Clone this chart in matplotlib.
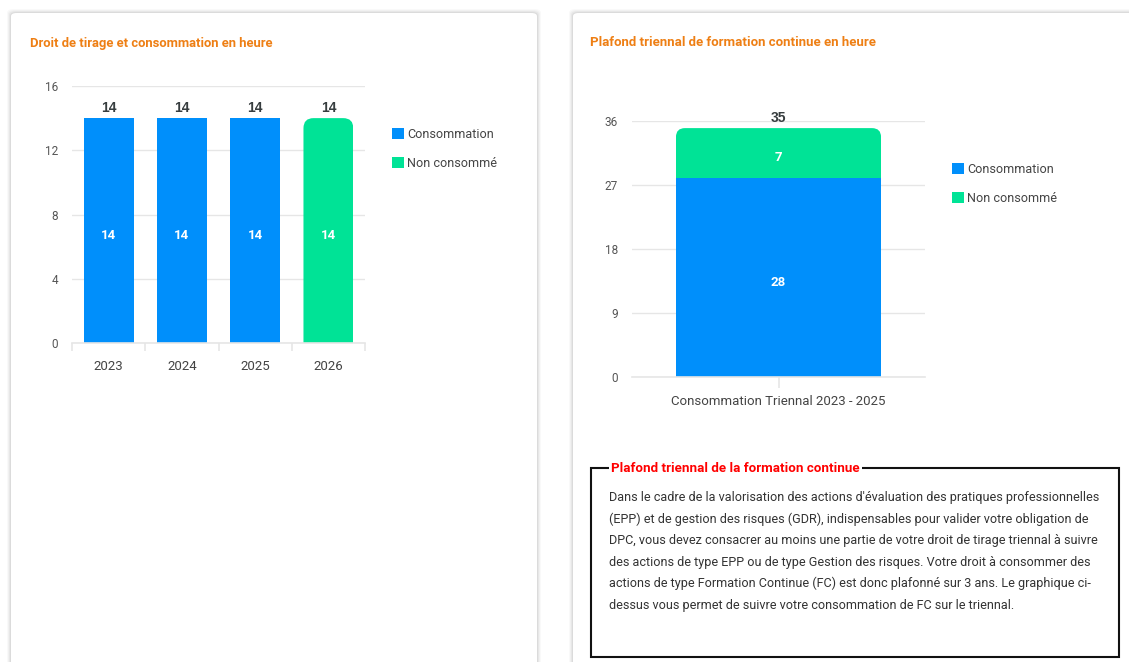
import matplotlib
matplotlib.use("Agg")
import matplotlib.pyplot as plt
import numpy as np
from matplotlib.patches import FancyBboxPatch, Rectangle, Patch
from matplotlib.transforms import IdentityTransform

# données
annees = ["2023", "2024", "2025", "2026"]
conso_annuelle = [14, 14, 14, 0]
non_conso_annuelle = [0, 0, 0, 14]

triennal_label = ["Consommation Triennal 2023 - 2025"]
conso_triennal = [28]
non_conso_triennal = [7]

titre_gauche = "Droit de tirage et consommation en heure"
titre_droite = "Plafond triennal de formation continue en heure"
titre_encadre = "Plafond triennal de la formation continue"
texte_encadre = [
    "Dans le cadre de la valorisation des actions d'évaluation des pratiques professionnelles",
    "(EPP) et de gestion des risques (GDR), indispensables pour valider votre obligation de",
    "DPC, vous devez consacrer au moins une partie de votre droit de tirage triennal à suivre",
    "des actions de type EPP ou de type Gestion des risques. Votre droit à consommer des",
    "actions de type Formation Continue (FC) est donc plafonné sur 3 ans. Le graphique ci-",
    "dessus vous permet de suivre votre consommation de FC sur le triennal.",
]

BLEU = "#008FFB"
VERT = "#00E396"
ORANGE = "#EE7F14"
GRILLE = "#E6E6E6"
TXT = "#373D3F"

W, H = 1129, 662
DPI = 100
plt.rcParams['font.family'] = ['Roboto', 'DejaVu Sans']

fig = plt.figure(figsize=(W / DPI, H / DPI), dpi=DPI)
fig.patch.set_facecolor("white")


def rect(x, y, w, h):
    return [x / W, 1 - (y + h) / H, w / W, h / H]


# cartes avec ombre
for (cx, cy, cw, ch) in [(11, 13, 526, 680), (573, 13, 600, 680)]:
    for i, a in enumerate([0.025, 0.03, 0.04, 0.05]):
        d = 4 - i
        fig.patches.append(FancyBboxPatch(((cx - d) / W, 1 - (cy + ch + d) / H), (cw + 2 * d) / W,
                                          (ch + 2 * d) / H, boxstyle="round,pad=0,rounding_size=0.006",
                                          transform=fig.transFigure, facecolor="black", alpha=a,
                                          edgecolor="none", zorder=0))
    fig.patches.append(FancyBboxPatch((cx / W, 1 - (cy + ch) / H), cw / W, ch / H,
                                      boxstyle="round,pad=0,rounding_size=0.005",
                                      transform=fig.transFigure, facecolor="white",
                                      edgecolor="none", zorder=0.5))

fig.text(30 / W, 1 - 43 / H, titre_gauche, color=ORANGE, fontsize=9.4, fontweight="bold",
         va="center", ha="left")
fig.text(590 / W, 1 - 43 / H, titre_droite, color=ORANGE, fontsize=9.5, fontweight="bold",
         va="center", ha="left")


def style_axes(ax, yticks, ymax):
    ax.set_zorder(2)
    ax.set_ylim(0, ymax)
    ax.set_yticks(yticks)
    ax.grid(axis="y", color=GRILLE, linewidth=1)
    ax.set_axisbelow(True)
    for s in ["top", "right", "left"]:
        ax.spines[s].set_visible(False)
    ax.spines["bottom"].set_color(GRILLE)
    ax.spines["bottom"].set_linewidth(1.2)
    ax.tick_params(axis="y", length=0, pad=10, labelsize=8.5, labelcolor="#555555")
    ax.tick_params(axis="x", length=0, pad=12, labelsize=9.5, labelcolor="#444444")
    ax.set_facecolor("none")


def arrondir(ax, bar, r):
    # arrondit le haut de la barre (coins du bas cachés sous l'axe)
    x0, y0 = ax.transData.transform((bar.get_x(), bar.get_y()))
    x1, y1 = ax.transData.transform((bar.get_x() + bar.get_width(), bar.get_y() + bar.get_height()))
    clip = FancyBboxPatch((x0, y0 - 30), x1 - x0, y1 - y0 + 30,
                          boxstyle=f"round,pad=0,rounding_size={r}", transform=IdentityTransform())
    bar.set_clip_path(clip)


def legende(ax, x, y):
    ax.legend(handles=[Patch(facecolor=BLEU, label="Consommation"),
                       Patch(facecolor=VERT, label="Non consommé")],
              loc="upper left", bbox_to_anchor=(x / W, 1 - y / H), bbox_transform=fig.transFigure,
              frameon=False, fontsize=9.1, handlelength=0.95, handleheight=0.95, handletextpad=0.25,
              labelspacing=1.25, borderaxespad=0, borderpad=0, labelcolor="#444444")


def valeur(ax, xi, yi, v):
    ax.annotate(str(v), (xi, yi), xytext=(0, -3.5), textcoords="offset points", color="white",
                fontsize=9.5, fontweight="bold", ha="center", va="center")


# ---- graphique gauche
ax1 = fig.add_axes(rect(72, 86, 293, 257))
x = np.arange(len(annees))
style_axes(ax1, [0, 4, 8, 12, 16], 16)
ax1.set_xlim(-0.5, len(annees) - 0.5)
b1 = ax1.bar(x, conso_annuelle, width=0.68, color=BLEU, zorder=2)
b2 = ax1.bar(x, non_conso_annuelle, width=0.68, bottom=conso_annuelle, color=VERT, zorder=2)
ax1.set_xticks(x)
ax1.set_xticklabels(annees)
ax1.set_xticks(np.arange(len(annees) + 1) - 0.5, minor=True)
ax1.tick_params(axis="x", which="minor", length=6, color=GRILLE, width=1.2)
for i in range(len(annees)):
    total = conso_annuelle[i] + non_conso_annuelle[i]
    for val, base in [(conso_annuelle[i], 0), (non_conso_annuelle[i], conso_annuelle[i])]:
        if val > 0:
            valeur(ax1, x[i], base + val / 2, val)
    ax1.annotate(str(total), (x[i], total), xytext=(0, 2), textcoords="offset points",
                 ha="center", va="bottom", fontsize=10, fontweight="bold", color=TXT,
                 family=['Liberation Sans', 'DejaVu Sans'])
for bar, v in zip(b2, non_conso_annuelle):
    if v > 0:
        arrondir(ax1, bar, 10)
legende(ax1, 392, 128)

# ---- graphique droite
ax2 = fig.add_axes(rect(632, 121, 293, 256))
x2 = np.arange(len(triennal_label))
style_axes(ax2, [0, 9, 18, 27, 36], 36)
ax2.set_xlim(-0.5, 0.5)
c1 = ax2.bar(x2, conso_triennal, width=0.7, color=BLEU, zorder=2)
c2 = ax2.bar(x2, non_conso_triennal, width=0.7, bottom=conso_triennal, color=VERT, zorder=2)
ax2.set_xticks(x2)
ax2.set_xticklabels(triennal_label)
ax2.tick_params(axis="x", length=8, color=GRILLE, width=1.2, pad=5)
for i in range(len(triennal_label)):
    total = conso_triennal[i] + non_conso_triennal[i]
    valeur(ax2, x2[i], conso_triennal[i] / 2, conso_triennal[i])
    valeur(ax2, x2[i], conso_triennal[i] + non_conso_triennal[i] / 2, non_conso_triennal[i])
    ax2.annotate(str(total), (x2[i], total), xytext=(0, 2), textcoords="offset points",
                 ha="center", va="bottom", fontsize=10, fontweight="bold", color=TXT,
                 family=['Liberation Sans', 'DejaVu Sans'])
for bar in c2:
    arrondir(ax2, bar, 9)
legende(ax2, 952, 163)

# ---- encadré
fig.patches.append(Rectangle((591 / W, 1 - 657 / H), 528 / W, 189 / H, transform=fig.transFigure,
                             facecolor="none", edgecolor="#111111", linewidth=1.5, zorder=3))
fig.text(611 / W, 1 - 468 / H, titre_encadre, color="#FF0000", fontsize=9.6, fontweight="bold",
         va="center", ha="left", zorder=4,
         bbox=dict(facecolor="white", edgecolor="none", pad=1.5))
for k, ligne in enumerate(texte_encadre):
    fig.text(609 / W, 1 - (498 + k * 21.4) / H, ligne, color="#333333", fontsize=9.05,
             va="center", ha="left", zorder=4)

fig.savefig("out.png", dpi=DPI)
